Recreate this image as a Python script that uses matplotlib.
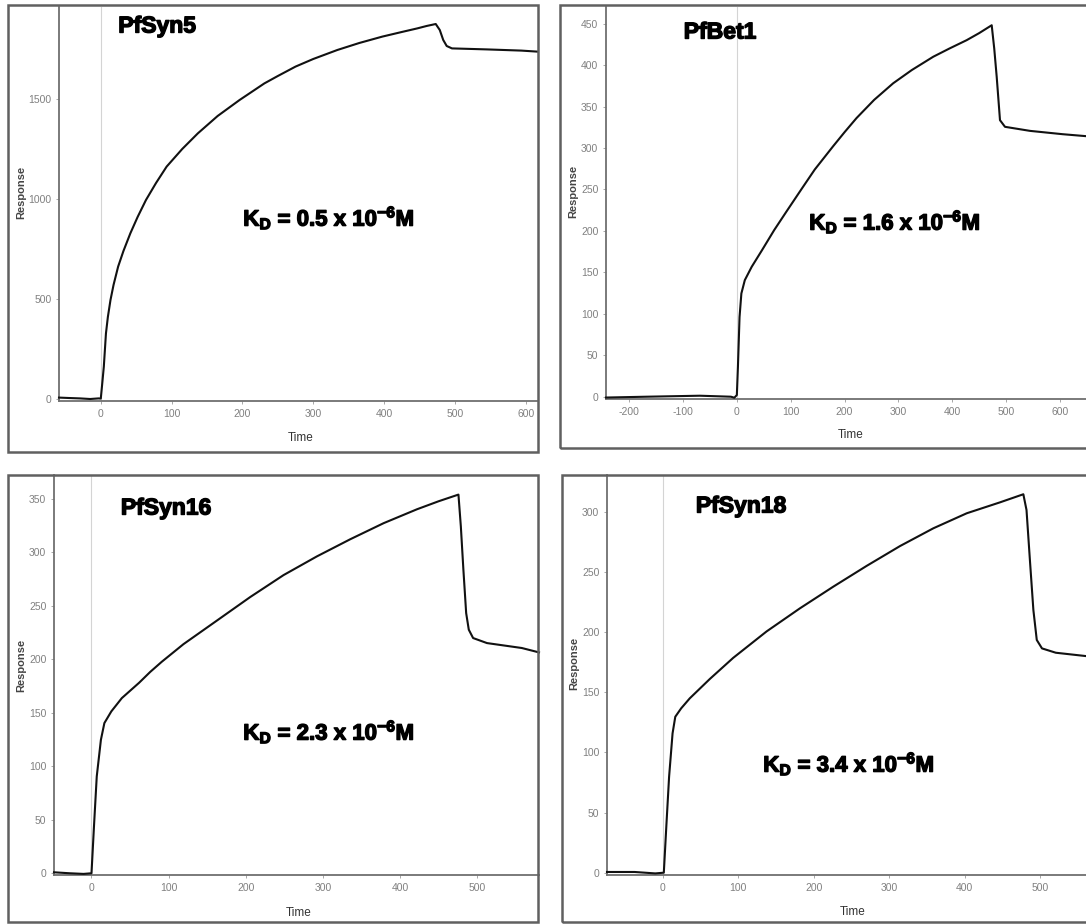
import matplotlib
matplotlib.use('Agg')
import matplotlib.pyplot as plt
import matplotlib.patheffects as pe
from matplotlib.patches import Rectangle

W, H = 1086, 924

plt.rcParams['font.family'] = ['Liberation Sans', 'DejaVu Sans']
plt.rcParams['axes.unicode_minus'] = False
plt.rcParams['mathtext.fontset'] = 'custom'
plt.rcParams['mathtext.rm'] = 'Liberation Sans:bold'
plt.rcParams['mathtext.default'] = 'rm'

# ---- data ----
names = ['PfSyn5', 'PfBet1', 'PfSyn16', 'PfSyn18']
kd_values = ['0.5', '1.6', '2.3', '3.4']

syn5_t = [-59, -45, -29.5, -15, -3, 0, 2, 4.3, 7.3, 10, 13.7, 18, 24.5, 32, 41.7, 52, 63.8,
          78, 93, 115, 137, 165, 196, 231, 250, 275, 300, 334, 365, 397.6, 425, 446.9, 460,
          473, 478.7, 483.6, 488.5, 495.9, 545, 594, 616]
syn5_r = [7, 5, 3, 0, 3, 2, 75, 162, 328, 410, 495, 570, 662, 740, 828, 910, 995,
          1080, 1162, 1250, 1328, 1415, 1495, 1578, 1615, 1662, 1700, 1745, 1780, 1812, 1835, 1853, 1865,
          1875, 1845, 1795, 1765, 1753, 1748, 1742, 1737]

bet1_t = [-243, -168, -68.7, -11, -4.7, 0, 2, 5, 8.4, 14.8, 27.6, 46.8, 69.3, 91.8, 120.7,
          144.7, 178.7, 200, 222.2, 255, 290.3, 325, 364.7, 395, 426.8, 450, 473.3, 478,
          482.6, 488.7, 498, 544.5, 605, 649, 680]
bet1_r = [-1, 0, 1.2, 0, -1.2, 2, 36, 96, 124.5, 140.6, 156.7, 176.8, 200.9, 223, 251,
          274, 302, 319, 336, 358, 378, 394, 410, 420, 430, 438.5, 448, 420,
          385.7, 333.5, 325.5, 320.6, 316.6, 314.2, 313]

syn16_t = [-48.6, -28.4, -10.3, 0, 3.2, 6.8, 12.2, 16.7, 25.7, 39.3, 61.8, 76, 91, 119.2,
           162.5, 205.7, 248.9, 292.2, 335.4, 378.6, 421.9, 450, 475.6, 478.7, 482, 485.6, 489,
           494.6, 512.6, 557.7, 580]
syn16_r = [0.9, 0, -0.6, 0, 43.6, 90.4, 124.7, 140.3, 151.2, 163.6, 178, 188, 197.5, 214,
           236, 258, 278.5, 296, 312, 327, 340, 347.5, 353.7, 324, 283.6, 243, 227.5,
           219.7, 215, 210.4, 206.3]

syn18_t = [-74, -37.5, -10, 1.3, 4.6, 8.3, 12.9, 16.5, 24.3, 35.7, 62.3, 93.2, 137.5, 181.7,
           225.9, 270.2, 314.5, 358.5, 402.8, 447, 477.8, 482, 486.5, 491.1, 495.6, 502.5, 520.8,
           561, 590]
syn18_r = [0.6, 0.6, -0.6, 0, 38.2, 79.8, 115.8, 129.6, 136.6, 144.9, 161, 178.5, 200.5, 219.7,
           237.7, 255, 271.5, 286.2, 298.7, 307.8, 314.5, 301.4, 259.8, 218.3, 193.4, 186.4, 182.8,
           180, 178.5]

series = [(syn5_t, syn5_r), (bet1_t, bet1_r), (syn16_t, syn16_r), (syn18_t, syn18_r)]

x_limits = [(-59, 616), (-243, 680), (-48.6, 580), (-74, 590)]
y_limits = [(-10, 1960), (-3, 470), (-2, 372), (-2, 330.5)]
x_ticks = [range(0, 601, 100), range(-200, 601, 100), range(0, 501, 100), range(0, 501, 100)]
y_ticks = [range(0, 1501, 500), range(0, 451, 50), range(0, 351, 50), range(0, 301, 50)]

# ---- layout in pixels ----
axes_px = [(59, 7, 537, 401), (606, 7, 1103, 399.2), (54, 475, 539, 875.4), (607, 475, 1108, 875.1)]
frame_px = [(8, 5, 538, 452), (560, 5, 1092, 448), (8, 475, 538, 922), (562, 475, 1092, 922)]
name_px = [(157, 26), (720, 32), (166, 508), (741, 506)]
kd_px = [(329, 218), (895, 222), (329, 732), (849, 764)]
ylabel_px = [(21, 192), (573, 191), (21, 665), (574, 663)]
xlabel_px = [(301, 438), (851, 435), (299, 913), (853, 912)]

fig = plt.figure(figsize=(W / 100, H / 100), dpi=100)
heavy = [pe.withStroke(linewidth=1.0, foreground='black')]

for i in range(4):
    l, t, r, b = axes_px[i]
    ax = fig.add_axes([l / W, 1 - b / H, (r - l) / W, (b - t) / H])
    xs, ys = series[i]
    ax.axvline(0, color='#d4d4d4', lw=0.8, zorder=1)
    ax.plot(xs, ys, color='#111111', lw=1.5, zorder=3, clip_on=False,
            solid_joinstyle='round')
    ax.set_xlim(*x_limits[i])
    ax.set_ylim(*y_limits[i])
    ax.set_xticks(list(x_ticks[i]))
    ax.set_yticks(list(y_ticks[i]))
    for s in ['top', 'right']:
        ax.spines[s].set_visible(False)
    for s in ['left', 'bottom']:
        ax.spines[s].set_color('#707070')
        ax.spines[s].set_linewidth(1.3)
    ax.tick_params(length=2.5, width=0.6, color='#999999', labelcolor='#808080',
                   labelsize=7.5, pad=3)

    fl, ft, fr, fb = frame_px[i]
    fig.add_artist(Rectangle((fl / W, 1 - fb / H), (fr - fl) / W, (fb - ft) / H,
                             transform=fig.transFigure, fill=False, edgecolor='#606060',
                             lw=1.8, zorder=10))

    nx, ny = name_px[i]
    fig.text(nx / W, 1 - ny / H, names[i], ha='center', va='center', fontsize=16.5,
             fontweight='bold', color='black', path_effects=heavy)
    kx, ky = kd_px[i]
    fig.text(kx / W, 1 - ky / H, 'K$_{D}$ = ' + kd_values[i] + ' x 10$^{-6}$M', ha='center',
             va='center', fontsize=16, fontweight='bold', color='black', path_effects=heavy)

    yx, yy = ylabel_px[i]
    fig.text(yx / W, 1 - yy / H, 'Response', rotation=90, ha='center', va='center',
             fontsize=8, fontweight='bold', color='#444444')
    xx, xy = xlabel_px[i]
    fig.text(xx / W, 1 - xy / H, 'Time', ha='center', va='center', fontsize=8.5,
             color='#333333')

fig.savefig('out.png', dpi=100, facecolor='white')
